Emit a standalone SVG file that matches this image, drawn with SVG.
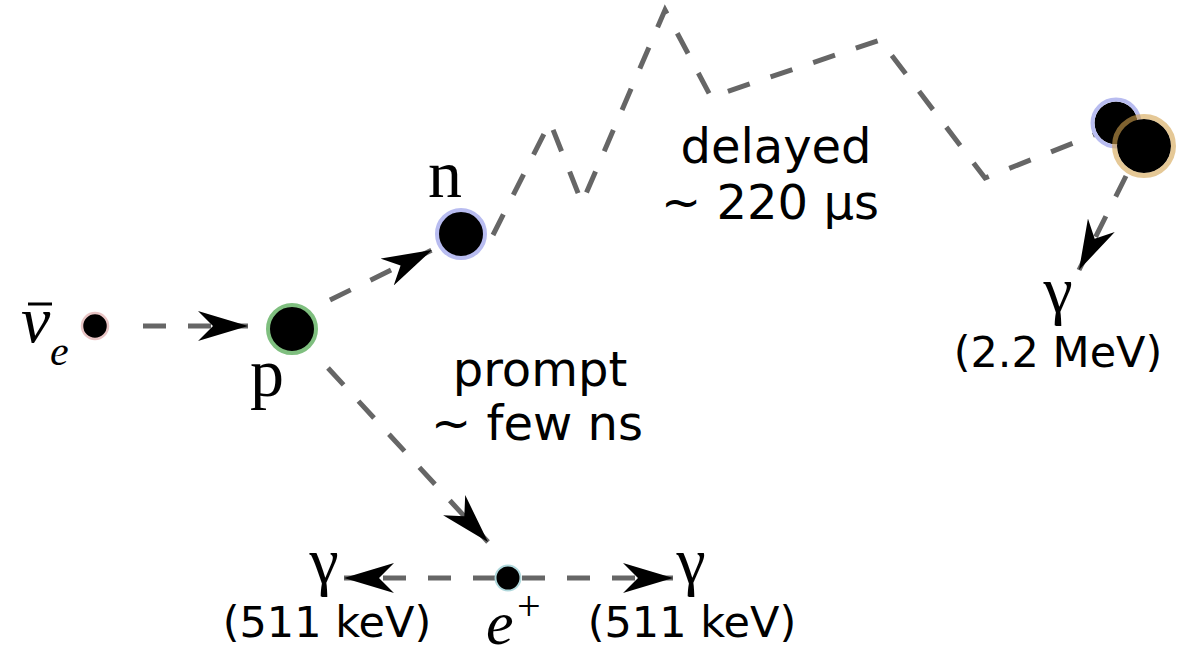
<svg xmlns="http://www.w3.org/2000/svg" width="1188" height="650" viewBox="0 0 1188 650">
<style>
.dash{fill:none;stroke:#666;stroke-width:5;stroke-dasharray:23 22}
.sans{font-family:"DejaVu Sans",Verdana,sans-serif;fill:#000}
.serif{font-family:"Liberation Serif","Times New Roman",serif;fill:#000}
.it{font-style:italic}
.big{font-size:48px}
.small{font-size:43px}
</style>
<defs>
<marker id="ah" viewBox="0 0 50 30" refX="50" refY="15" markerWidth="50" markerHeight="30" markerUnits="userSpaceOnUse" orient="auto">
<path d="M0,0 L50,15 L0,30 L15,15 Z" fill="#000"/>
</marker>
</defs>
<rect width="1188" height="650" fill="#fff"/>
<g id="connectors">
<path class="dash" d="M143,326 L248,326" marker-end="url(#ah)"/>
<path class="dash" d="M330,300 L432,250" marker-end="url(#ah)"/>
<path class="dash" d="M328,368 L488,542" marker-end="url(#ah)"/>
<path class="dash" d="M496,578 L344,578" marker-end="url(#ah)"/>
<path class="dash" d="M522,578 L673,578" marker-end="url(#ah)"/>
<path class="dash" d="M1126,176 L1079,270" marker-end="url(#ah)"/>
<path class="dash" d="M493,235 L550,122 L582,203 L665,10 L711,97 L880,40 L985,178 L1096,134"/>
</g>
<g id="node-nu">
<circle cx="95" cy="326" r="13" fill="#000" stroke="#e8c4c4" stroke-width="2.5"/>
<text class="serif it" x="21" y="342" font-size="66">ν</text>
<line x1="28" y1="304" x2="52" y2="304" stroke="#000" stroke-width="3"/>
<text class="serif it" x="50" y="365" font-size="42">e</text>
</g>
<g id="node-p">
<circle cx="292" cy="329" r="24" fill="#000" stroke="#7fbf7f" stroke-width="4"/>
<text class="serif" x="267" y="396" font-size="68" text-anchor="middle">p</text>
</g>
<g id="node-n">
<circle cx="461" cy="234" r="24" fill="#000" stroke="#b8bcf0" stroke-width="4"/>
<text class="serif" x="445" y="197" font-size="68" text-anchor="middle">n</text>
</g>
<g id="node-n-capture">
<circle cx="1116" cy="123" r="21.5" fill="#000"/>
<circle cx="1116" cy="123" r="23.5" fill="none" stroke="#b8bcf0" stroke-width="4"/>
<circle cx="1144" cy="146" r="27" fill="#000"/>
<circle cx="1144" cy="146" r="29.5" fill="none" stroke="#d4a450" stroke-opacity="0.6" stroke-width="5"/>
</g>
<g id="node-gamma-delayed">
<text class="serif" x="1058" y="312" font-size="66" text-anchor="middle">γ</text>
<text class="sans small" x="1058" y="367" text-anchor="middle">(2.2 MeV)</text>
</g>
<g id="node-eplus">
<circle cx="508" cy="578" r="12.5" fill="#000" stroke="#b0d8dc" stroke-width="2"/>
<text class="serif it" x="486" y="644" font-size="62">e</text>
<text class="serif" x="517" y="620" font-size="42">+</text>
</g>
<g id="node-gamma-left">
<text class="serif" x="324" y="583" font-size="66" text-anchor="middle">γ</text>
<text class="sans small" x="327" y="637" text-anchor="middle">(511 keV)</text>
</g>
<g id="node-gamma-right">
<text class="serif" x="691" y="583" font-size="66" text-anchor="middle">γ</text>
<text class="sans small" x="692" y="637" text-anchor="middle">(511 keV)</text>
</g>
<g id="label-prompt">
<text class="sans big" x="540" y="386" text-anchor="middle">prompt</text>
<text class="sans big" x="537" y="440" text-anchor="middle">~ few ns</text>
</g>
<g id="label-delayed">
<text class="sans big" x="776" y="163" text-anchor="middle">delayed</text>
<text class="sans big" x="770" y="219" text-anchor="middle">~ 220 μs</text>
</g>
</svg>
